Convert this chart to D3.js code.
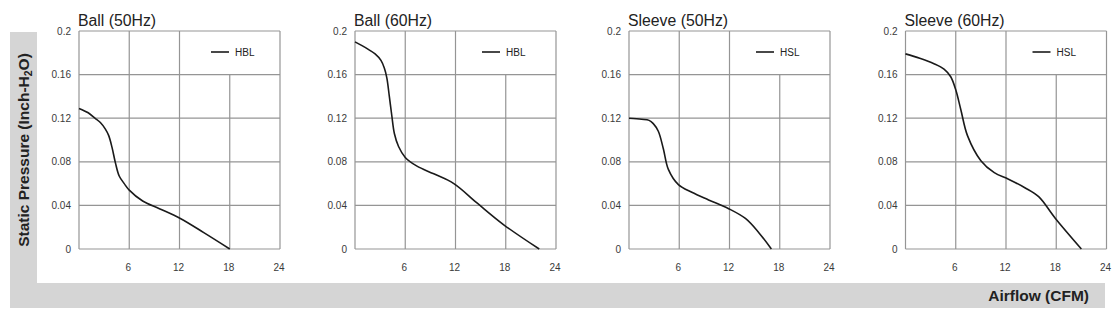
<!DOCTYPE html>
<html>
<head>
<meta charset="utf-8">
<script src="https://cdn.jsdelivr.net/npm/d3@7"></script>
<style>
  body { margin: 0; background: #fff; }
  svg { display: block; font-family: "Liberation Sans", Arial, sans-serif; }
</style>
</head>
<body>
<div id="chart"></div>
<script>
// Panel titles and legend labels
const titles = ["Ball (50Hz)", "Ball (60Hz)", "Sleeve (50Hz)", "Sleeve (60Hz)"];
const legends = ["HBL", "HBL", "HSL", "HSL"];

// Curve data: airflow (CFM) and static pressure (inch-H2O)
const ball50Flow = [0, 1.1, 1.9, 2.55, 3.15, 3.55, 3.95, 4.35, 4.8, 5.4, 6.0, 7.6, 9.6, 12.1, 14.9, 18.0];
const ball50Pres = [0.129, 0.125, 0.120, 0.116, 0.110, 0.104, 0.093, 0.079, 0.067, 0.060, 0.054, 0.044, 0.037, 0.028, 0.015, 0];
const ball60Flow = [0, 1.4, 2.4, 3.1, 3.5, 3.8, 4.1, 4.4, 4.7, 5.2, 6.0, 7.4, 9.4, 11.8, 14.6, 17.8, 22.0];
const ball60Pres = [0.190, 0.184, 0.179, 0.173, 0.166, 0.157, 0.140, 0.122, 0.106, 0.094, 0.084, 0.076, 0.069, 0.060, 0.042, 0.022, 0];
const sleeve50Flow = [0, 1.5, 2.4, 2.9, 3.5, 4.1, 4.7, 5.9, 7.5, 9.5, 11.9, 13.9, 15.5, 17.0];
const sleeve50Pres = [0.120, 0.119, 0.118, 0.115, 0.108, 0.092, 0.073, 0.059, 0.052, 0.045, 0.037, 0.028, 0.015, 0];
const sleeve60Flow = [0, 1.7, 3.4, 4.6, 5.4, 6.0, 6.6, 7.4, 9.0, 10.6, 12.3, 14.3, 15.9, 17.9, 21.0];
const sleeve60Pres = [0.179, 0.175, 0.170, 0.165, 0.158, 0.146, 0.128, 0.104, 0.081, 0.070, 0.064, 0.056, 0.048, 0.028, 0];

const flows = [ball50Flow, ball60Flow, sleeve50Flow, sleeve60Flow];
const pressures = [ball50Pres, ball60Pres, sleeve50Pres, sleeve60Pres];

// Tick labels
const xTicks = [6, 12, 18, 24];
const yTicks = [0, 0.04, 0.08, 0.12, 0.16, 0.2];

const W = 1114, H = 325;
const panelLeft = [79, 355, 629, 905.5];
const panelW = 201, plotTop = 31, plotBottom = 249;
const gridColor = "#959595";

const svg = d3.select("#chart").append("svg")
    .attr("width", W)
    .attr("height", H);

// Gray L-shaped frame behind the axis titles
svg.append("rect").attr("x", 10).attr("y", 32).attr("width", 27).attr("height", 276).attr("fill", "#d5d5d5");
svg.append("rect").attr("x", 10).attr("y", 283).attr("width", 1095).attr("height", 25).attr("fill", "#d5d5d5");

const yTitle = svg.append("text")
    .attr("transform", "translate(28.5,150) rotate(-90)")
    .attr("text-anchor", "middle")
    .attr("font-size", 15.5)
    .attr("font-weight", "bold")
    .attr("fill", "#222");
yTitle.append("tspan").text("Static Pressure (Inch-H");
yTitle.append("tspan").attr("font-size", 10.5).attr("dy", 3).text("2");
yTitle.append("tspan").attr("dy", -3).text("O)");

svg.append("text")
    .attr("x", 1089)
    .attr("y", 300.5)
    .attr("text-anchor", "end")
    .attr("font-size", 15.5)
    .attr("font-weight", "bold")
    .attr("fill", "#222")
    .text("Airflow (CFM)");

titles.forEach((title, i) => {
    const x = d3.scaleLinear().domain([0, 24]).range([panelLeft[i], panelLeft[i] + panelW]);
    const y = d3.scaleLinear().domain([0, 0.2]).range([plotBottom, plotTop]);
    const g = svg.append("g");

    // horizontal grid
    g.selectAll(".hg").data(yTicks).enter().append("line")
        .attr("x1", x(0)).attr("x2", x(24))
        .attr("y1", d => y(d)).attr("y2", d => y(d))
        .attr("stroke", gridColor).attr("stroke-width", 1.2);

    // vertical grid (18 stops below the legend cell)
    g.selectAll(".vg").data([0, 6, 12, 18, 24]).enter().append("line")
        .attr("x1", d => x(d)).attr("x2", d => x(d))
        .attr("y1", d => d === 18 ? y(0.16) : y(0.2))
        .attr("y2", y(0))
        .attr("stroke", gridColor).attr("stroke-width", 1.2);

    // y tick labels
    g.selectAll(".yt").data(yTicks).enter().append("text")
        .attr("x", x(0) - 8)
        .attr("y", d => y(d))
        .attr("dy", "0.35em")
        .attr("text-anchor", "end")
        .attr("font-size", 10)
        .attr("fill", "#3a3a3a")
        .text(d => d3.format("~g")(d));

    // x tick labels
    g.selectAll(".xt").data(xTicks).enter().append("text")
        .attr("x", d => x(d) - 1)
        .attr("y", plotBottom + 22)
        .attr("text-anchor", "middle")
        .attr("font-size", 10)
        .attr("fill", "#3a3a3a")
        .text(d => d);

    // title
    g.append("text")
        .attr("x", x(0) - 1)
        .attr("y", 26)
        .attr("font-size", 15.8)
        .attr("fill", "#222")
        .text(title);

    // curve
    const pts = flows[i].map((f, k) => [f, pressures[i][k]]);
    g.append("path")
        .datum(pts)
        .attr("fill", "none")
        .attr("stroke", "#1a1a1a")
        .attr("stroke-width", 1.6)
        .attr("d", d3.line().x(d => x(d[0])).y(d => y(d[1])).curve(d3.curveCatmullRom.alpha(0.5)));

    // legend
    const ly = 52;
    const lx = i === 0 ? 132 : 127;
    g.append("line")
        .attr("x1", x(0) + lx).attr("x2", x(0) + lx + 18)
        .attr("y1", ly).attr("y2", ly)
        .attr("stroke", "#1a1a1a").attr("stroke-width", 1.6);
    g.append("text")
        .attr("x", x(0) + lx + 24)
        .attr("y", ly)
        .attr("dy", "0.35em")
        .attr("font-size", 10)
        .attr("fill", "#222")
        .text(legends[i]);
});
</script>
</body>
</html>
